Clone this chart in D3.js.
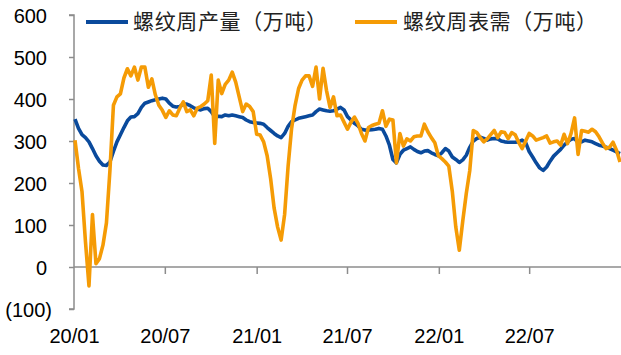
<!DOCTYPE html>
<html>
<head>
<meta charset="utf-8">
<script src="https://cdn.jsdelivr.net/npm/d3@7/dist/d3.min.js"></script>
<style>
html,body{margin:0;padding:0;background:#fff;}
svg{display:block;}
</style>
</head>
<body>
<svg id="chart" width="621" height="355"></svg>
<script>
// ---- data ----
const seriesNames = ["螺纹周产量（万吨）", "螺纹周表需（万吨）"];
const firstWeek = "2020-01-03"; // weekly observations start
const production = [
 352,330,315,308,298,282,265,252,243,242,250,275,298,315,332,348,357,358,365,380,
 390,393,396,398,400,402,400,390,383,381,382,388,388,384,379,376,374,377,378,370,
 358,359,358,362,360,362,360,358,356,350,346,344,343,342,340,332,325,318,312,308,
 318,335,346,350,354,356,358,360,362,370,376,374,372,371,372,376,380,374,358,350,
 342,336,328,326,326,327,328,330,328,312,290,256,248,268,278,282,286,280,275,272,
 276,277,272,268,265,272,282,276,262,256,249,255,266,285,300,306,309,306,302,305,
 306,305,300,298,297,297,297,298,302,296,275,262,248,236,230,238,252,264,272,280,
 290,298,304,306,296,298,302,300,298,294,290,288,285,282,278,274,270
];
const demand = [
 302,235,180,60,-45,125,8,20,52,105,230,385,405,412,450,472,455,476,445,476,
 476,428,448,410,385,373,356,372,362,360,378,393,370,374,360,378,382,388,396,457,
 294,445,413,435,445,464,440,405,370,388,382,370,316,314,298,265,210,140,95,64,
 125,240,330,385,425,445,455,455,430,476,400,473,420,380,405,360,362,345,328,345,
 357,342,318,300,332,337,340,342,372,335,352,350,248,318,288,305,300,310,312,312,
 340,322,308,296,265,258,250,240,180,95,40,110,175,230,325,320,308,298,305,315,
 325,308,322,320,306,320,315,297,282,300,318,312,302,305,308,312,295,298,300,290,
 316,294,318,355,268,325,323,321,328,322,310,295,282,285,297,278,250
];
const yTicks = [-100, 0, 100, 200, 300, 400, 500, 600];
const xTicks = ["2020-01-01","2020-07-01","2021-01-01","2021-07-01","2022-01-01","2022-07-01"];
const colors = ["#0a4a9c", "#f59b05"];

// ---- build ----
const parse = d3.utcParse("%Y-%m-%d");
const start = parse(firstWeek);
const dates = production.map((_, i) => d3.utcWeek.offset(start, i));

const svg = d3.select("#chart");
const x = d3.scaleUtc().domain([parse("2020-01-01"), parse("2023-01-01")]).range([74, 621]);
const y = d3.scaleLinear().domain([-100, 600]).range([309, 15]);
const axisColor = "#8c8c8c";
const font = "'Liberation Sans', Arial, sans-serif";

// y axis
const yAxis = svg.append("g").attr("transform", "translate(74,0)")
  .call(d3.axisLeft(y).tickValues(yTicks).tickSize(5).tickPadding(0)
    .tickFormat(d => d < 0 ? "(" + Math.abs(d) + ")" : String(d)));
yAxis.select(".domain").attr("stroke", axisColor).attr("stroke-width", 1.5).attr("d", "M-5,15H0V309H-5");
yAxis.selectAll(".tick line").attr("stroke", axisColor).attr("stroke-width", 1.5);
yAxis.selectAll(".tick text")
  .attr("font-family", font).attr("font-size", 20).attr("fill", "#000")
  .attr("x", d => d < 0 ? -22 : -27)
  .attr("dy", "0.35em");

// x axis at zero
const xAxis = svg.append("g").attr("transform", `translate(0,${y(0)})`)
  .call(d3.axisBottom(x).tickValues(xTicks.map(parse)).tickSize(7).tickFormat(d3.utcFormat("%y/%m")));
xAxis.select(".domain").attr("stroke", axisColor).attr("stroke-width", 1.5).attr("d", `M74,0H621`);
xAxis.selectAll(".tick line").attr("stroke", axisColor).attr("stroke-width", 1.5)
  .attr("display", (d, i) => i === 0 ? "none" : null);
xAxis.selectAll(".tick text")
  .attr("font-family", font).attr("font-size", 20).attr("fill", "#000")
  .attr("y", 0).attr("dy", 0)
  .attr("transform", `translate(0,${343 - y(0)})`);

// lines
const series = [production, demand];
const line = d3.line().x((d, i) => x(dates[i])).y(d => y(d));
series.forEach((s, k) => {
  svg.append("path").datum(s)
    .attr("fill", "none").attr("stroke", colors[k]).attr("stroke-width", 3.6)
    .attr("stroke-linejoin", "round").attr("stroke-linecap", "butt")
    .attr("d", line);
});

// legend
const legendPos = [[86, 133], [355, 403]];
seriesNames.forEach((name, k) => {
  const g = svg.append("g");
  g.append("line").attr("x1", legendPos[k][0]).attr("x2", legendPos[k][0] + 42)
    .attr("y1", 22).attr("y2", 22).attr("stroke", colors[k]).attr("stroke-width", 4);
  g.append("text").attr("x", legendPos[k][1]).attr("y", 29)
    .attr("font-family", "'Noto Sans CJK SC', sans-serif").attr("font-size", 21)
    .attr("textLength", 194).attr("lengthAdjust", "spacing")
    .attr("fill", "#222").text(name);
});
</script>
</body>
</html>
